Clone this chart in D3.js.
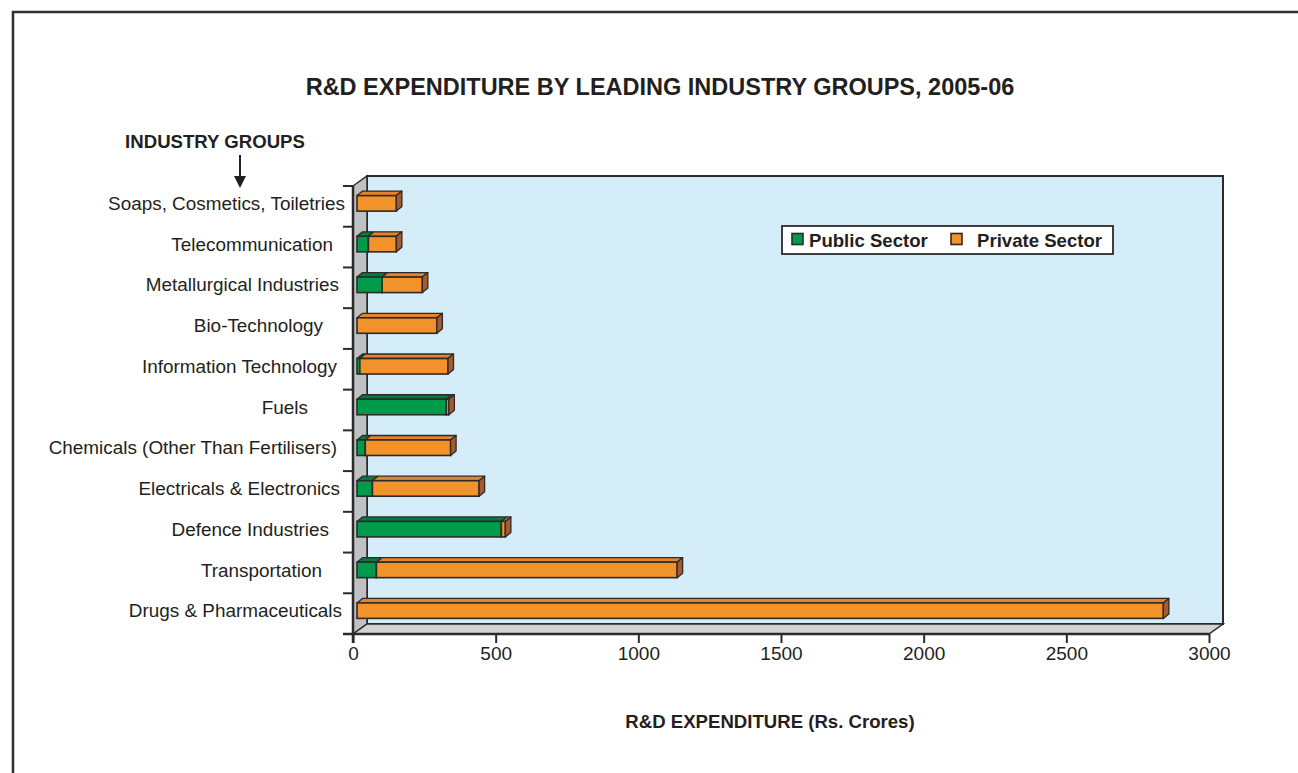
<!DOCTYPE html>
<html>
<head>
<meta charset="utf-8">
<script src="https://cdn.jsdelivr.net/npm/d3@7"></script>
<style>
  html, body { margin: 0; padding: 0; background: #fff; }
  svg { display: block; font-family: "Liberation Sans", Arial, Helvetica, sans-serif; }
</style>
</head>
<body>
<svg id="chart" width="1298" height="773"></svg>
<script>
// Industry groups, listed top to bottom
const categories = [
  "Soaps, Cosmetics, Toiletries",
  "Telecommunication",
  "Metallurgical Industries",
  "Bio-Technology",
  "Information Technology",
  "Fuels",
  "Chemicals (Other Than Fertilisers)",
  "Electricals & Electronics",
  "Defence Industries",
  "Transportation",
  "Drugs & Pharmaceuticals"
];
// R&D expenditure, Rs. crores
const publicSector  = [0, 40, 88, 0, 10, 313, 29, 54, 506, 68, 0];
const privateSector = [138, 98, 141, 280, 309, 9, 299, 374, 14, 1054, 2826];
const seriesNames = ["Public Sector", "Private Sector"];
const xTicks = [0, 500, 1000, 1500, 2000, 2500, 3000];

// Gap between each category label and the axis (hand-set label placement)
const labelGap = [8, 20, 14, 30, 16, 45, 16, 13, 24, 31, 11];

const colors = {
  fill:  ["#009a4b", "#f2922b"],
  top:   ["#007d3c", "#e4832a"],
  side:  "#a65a2e",
  stroke: "#2b2b2b",
  wall:  "#d5edf9",
  leftWall: "#bfc1c5",
  floor: "#d3d3d3"
};

const svg = d3.select("#chart");

// Page frame
svg.append("rect")
  .attr("x", 13).attr("y", 12).attr("width", 1400).attr("height", 900)
  .attr("fill", "none").attr("stroke", "#2f2f2f").attr("stroke-width", 2.5);

// Scales
const x = d3.scaleLinear().domain([0, 3000]).range([353, 1209]);
const y = d3.scaleBand().domain(categories).range([186, 634]);
const depth = { dx: 14, dy: -10 };      // 3D wall depth
const barShift = { dx: 4, dy: -3 };      // bar position inside depth
const barDepth = { dx: 5.5, dy: -4.5 };  // bar thickness
const barH = 15.5;

const x0 = x(0), x1 = x(3000);
const yTop = y.range()[0], yBot = y.range()[1];

// Back wall
svg.append("rect")
  .attr("x", x0 + depth.dx).attr("y", yTop + depth.dy)
  .attr("width", x1 - x0).attr("height", yBot - yTop)
  .attr("fill", colors.wall).attr("stroke", colors.stroke).attr("stroke-width", 2);

// Left wall
svg.append("polygon")
  .attr("points", [[x0, yTop], [x0 + depth.dx, yTop + depth.dy], [x0 + depth.dx, yBot + depth.dy], [x0, yBot]].join(" "))
  .attr("fill", colors.leftWall).attr("stroke", colors.stroke).attr("stroke-width", 1.5);

// Floor
svg.append("polygon")
  .attr("points", [[x0, yBot], [x0 + depth.dx, yBot + depth.dy], [x1 + depth.dx, yBot + depth.dy], [x1, yBot]].join(" "))
  .attr("fill", colors.floor).attr("stroke", colors.stroke).attr("stroke-width", 1.5);

// X axis
const xAxis = svg.append("g")
  .attr("transform", `translate(0,${yBot})`)
  .call(d3.axisBottom(x).tickValues(xTicks).tickSize(9).tickPadding(4).tickFormat(d3.format("d")));
xAxis.select(".domain").remove();
xAxis.selectAll(".tick line").attr("stroke", colors.stroke).attr("stroke-width", 2);
xAxis.selectAll(".tick text")
  .attr("font-size", 19).attr("fill", "#231f20")
  .attr("font-family", "Liberation Sans, Arial, sans-serif");
svg.append("line")
  .attr("x1", x0 - 10).attr("x2", x1).attr("y1", yBot).attr("y2", yBot)
  .attr("stroke", colors.stroke).attr("stroke-width", 2.5);

// Y axis line and boundary ticks
svg.append("line")
  .attr("x1", x0).attr("x2", x0).attr("y1", yTop).attr("y2", yBot + 9)
  .attr("stroke", colors.stroke).attr("stroke-width", 2.5);
const bounds = categories.map(c => y(c)).concat([yBot]);
svg.append("g").selectAll("line").data(bounds).join("line")
  .attr("x1", x0 - 10).attr("x2", x0).attr("y1", d => d).attr("y2", d => d)
  .attr("stroke", colors.stroke).attr("stroke-width", 2);

// Category labels
svg.append("g").selectAll("text").data(categories).join("text")
  .attr("x", (d, i) => x0 - labelGap[i])
  .attr("y", d => y(d) + y.bandwidth() / 2 + barShift.dy)
  .attr("dy", "0.35em")
  .attr("text-anchor", "end")
  .attr("font-size", 18.9).attr("fill", "#231f20")
  .text(d => d);

// Stacked 3D bars
const rows = categories.map((c, i) => ({ cat: c, vals: [publicSector[i], privateSector[i]] }));
const barsG = svg.append("g");
rows.forEach(row => {
  const cy = y(row.cat) + y.bandwidth() / 2 + barShift.dy;
  const top = cy - barH / 2, bot = cy + barH / 2;
  let acc = 0;
  const segs = [];
  row.vals.forEach((v, s) => {
    if (v > 0) segs.push({ s, a: acc, b: acc + v });
    acc += v;
  });
  const g = barsG.append("g");
  segs.forEach(seg => {
    const xa = x(seg.a) + barShift.dx, xb = x(seg.b) + barShift.dx;
    // top face
    g.append("polygon")
      .attr("points", [[xa, top], [xa + barDepth.dx, top + barDepth.dy], [xb + barDepth.dx, top + barDepth.dy], [xb, top]].join(" "))
      .attr("fill", colors.top[seg.s]).attr("stroke", colors.stroke).attr("stroke-width", 1.3).attr("stroke-linejoin", "round");
    // front face
    g.append("rect")
      .attr("x", xa).attr("y", top).attr("width", xb - xa).attr("height", barH)
      .attr("fill", colors.fill[seg.s]).attr("stroke", colors.stroke).attr("stroke-width", 1.6);
  });
  // end face
  const xe = x(acc) + barShift.dx;
  g.append("polygon")
    .attr("points", [[xe, top], [xe + barDepth.dx, top + barDepth.dy], [xe + barDepth.dx, bot + barDepth.dy], [xe, bot]].join(" "))
    .attr("fill", colors.side).attr("stroke", colors.stroke).attr("stroke-width", 1.3).attr("stroke-linejoin", "round");
});

// Legend
const leg = svg.append("g");
leg.append("rect")
  .attr("x", 782).attr("y", 226).attr("width", 331).attr("height", 28)
  .attr("fill", "#fff").attr("stroke", colors.stroke).attr("stroke-width", 1.8);
const legX = [792, 951], legTextX = [809, 977];
seriesNames.forEach((name, i) => {
  leg.append("rect")
    .attr("x", legX[i]).attr("y", 233.5).attr("width", 11).attr("height", 11)
    .attr("fill", colors.fill[i]).attr("stroke", colors.stroke).attr("stroke-width", 1.6);
  leg.append("text")
    .attr("x", legTextX[i]).attr("y", 240).attr("dy", "0.35em")
    .attr("font-size", 18.6).attr("font-weight", "bold").attr("fill", "#231f20")
    .text(name);
});

// Titles
svg.append("text")
  .attr("x", 660).attr("y", 87).attr("dy", "0.35em").attr("text-anchor", "middle")
  .attr("font-size", 23.5).attr("font-weight", "bold").attr("fill", "#231f20")
  .text("R&D EXPENDITURE BY LEADING INDUSTRY GROUPS, 2005-06");

svg.append("text")
  .attr("x", 215).attr("y", 141).attr("dy", "0.35em").attr("text-anchor", "middle")
  .attr("font-size", 18.6).attr("font-weight", "bold").attr("fill", "#231f20")
  .text("INDUSTRY GROUPS");

// Arrow under the axis heading
svg.append("line")
  .attr("x1", 240).attr("x2", 240).attr("y1", 155).attr("y2", 178)
  .attr("stroke", "#231f20").attr("stroke-width", 2);
svg.append("polygon")
  .attr("points", "234,176 246,176 240,188")
  .attr("fill", "#231f20");

svg.append("text")
  .attr("x", 770).attr("y", 721).attr("dy", "0.35em").attr("text-anchor", "middle")
  .attr("font-size", 18.6).attr("font-weight", "bold").attr("fill", "#231f20")
  .text("R&D EXPENDITURE (Rs. Crores)");
</script>
</body>
</html>
